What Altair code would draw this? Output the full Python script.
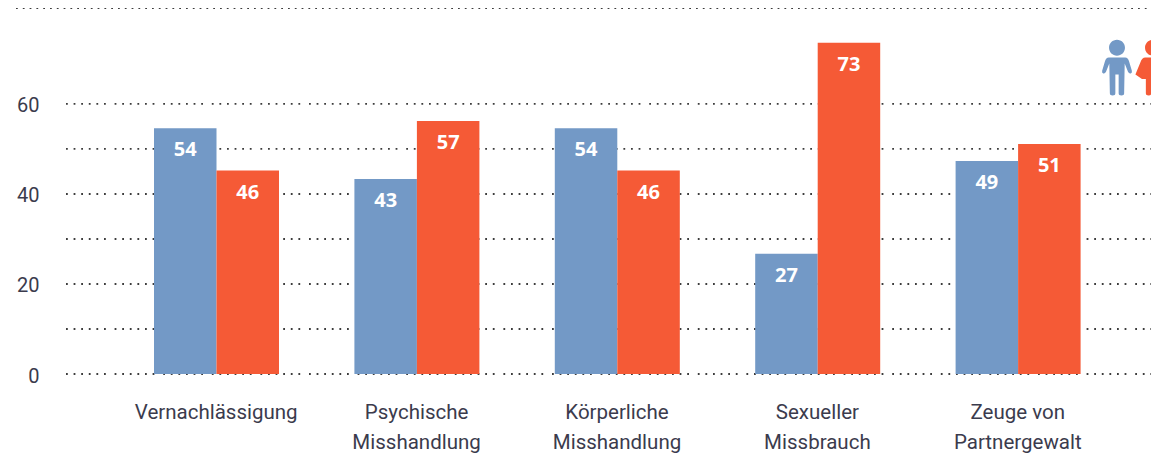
import altair as alt
import pandas as pd

categories = ["Vernachlässigung", "Psychische|Misshandlung", "Körperliche|Misshandlung",
              "Sexueller|Missbrauch", "Zeuge von|Partnergewalt"]
boys_bars = [54.6, 43.3, 54.6, 26.7, 47.3]
girls_bars = [45.2, 56.2, 45.2, 73.6, 51.1]
boys_labels = ["54", "43", "54", "27", "49"]
girls_labels = ["46", "57", "46", "73", "51"]
groups = ["Jungen", "Mädchen"]
grid_values = [0, 10, 20, 30, 40, 50, 60]
BLUE = "#7399C6"
RED = "#F55A36"
TEXT = "#3b3b4d"
GRID = "#3c3c3c"
TOP = 81.3

rows = []
for c, bv, gv, bl, gl in zip(categories, boys_bars, girls_bars, boys_labels, girls_labels):
    rows.append({"cat": c, "group": groups[0], "value": bv, "label": bl})
    rows.append({"cat": c, "group": groups[1], "value": gv, "label": gl})
df = pd.DataFrame(rows)

x = alt.X("cat:N", sort=categories,
          scale=alt.Scale(domain=categories, range=[50, 1052], paddingInner=0, paddingOuter=0),
          axis=alt.Axis(title=None, labelAngle=0, domain=False, ticks=False, labelPadding=28,
                        labelFont="Roboto", labelFontSize=20.5, labelColor=TEXT,
                        labelLineHeight=30, labelExpr="split(datum.label, '|')", labelBaseline="top"))
xo = alt.XOffset("group:N", sort=groups,
                 scale=alt.Scale(domain=groups, range=[38, 163], paddingInner=0, paddingOuter=0))
yscale = alt.Scale(domain=[0, TOP], nice=False)
y = alt.Y("value:Q", scale=yscale,
          axis=alt.Axis(title=None, values=grid_values, domain=False, ticks=False, grid=False,
                        labelPadding=27, labelFont="Roboto", labelFontSize=20, labelColor=TEXT,
                        labelOffset=2,
                        labelExpr="datum.value % 20 === 0 ? datum.label : ''"))

grid = alt.Chart(pd.DataFrame({"value": grid_values})).mark_rule(
    color=GRID, strokeWidth=1.9,
    strokeDash=[1.8, 5.8, 1.8, 5.8, 1.8, 5.8, 1.8, 5.8, 1.8, 5.8, 1.8, 8.8]).encode(
    y=alt.Y("value:Q", scale=yscale, title=None),
    x=alt.value(0), x2=alt.value(1085))

bars = alt.Chart(df).mark_bar().encode(
    x=x, xOffset=xo, y=y,
    color=alt.Color("group:N", scale=alt.Scale(domain=groups, range=[BLUE, RED]), legend=None))

texts = alt.Chart(df).mark_text(color="white", font="Open Sans", fontWeight="bold", fontSize=20,
                                baseline="middle", dy=22).encode(
    x=x, xOffset=xo, y=alt.Y("value:Q", scale=yscale, title=None), text="label:N")

top_rule = alt.Chart(pd.DataFrame({"v": [TOP]})).mark_rule(
    color=GRID, strokeWidth=1.9, strokeDash=[1.8, 5]).encode(
    y=alt.Y("v:Q", scale=yscale, title=None),
    x=alt.value(-50), x2=alt.value(1085))

BOY = ("M0 -.515A.145 .145 0 1 1 0 -.225A.145 .145 0 1 1 0 -.515Z"
       "M-.15 -.19L.15 -.19Q.2 -.19 .22 -.12L.27 .05Q.28 .09 .25 .1Q.22 .11 .2 .07L.14 -.08"
       "L.13 .46Q.13 .5 .08 .5Q.03 .5 .03 .46L.03 .12L-.03 .12L-.03 .46Q-.03 .5 -.08 .5"
       "Q-.13 .5 -.13 .46L-.14 -.08L-.2 .07Q-.22 .11 -.25 .1Q-.28 .09 -.27 .05L-.22 -.12Q-.2 -.19 -.15 -.19Z")
GIRL = ("M0 -.515A.145 .145 0 1 1 0 -.225A.145 .145 0 1 1 0 -.515Z"
        "M-.14 -.19L.14 -.19Q.2 -.19 .23 -.1L.32 .12L.2 .2L.13 .2L.13 .46Q.13 .5 .08 .5"
        "Q.03 .5 .03 .46L.03 .2L-.03 .2L-.03 .46Q-.03 .5 -.08 .5Q-.13 .5 -.13 .46L-.13 .2"
        "L-.2 .2L-.32 .12L-.23 -.1Q-.2 -.19 -.14 -.19Z")

boy = alt.Chart(pd.DataFrame({"n": ["boy"]})).mark_point(
    shape=BOY, filled=True, color=BLUE, opacity=1, size=12100).encode(
    x=alt.value(1051), y=alt.value(60))
girl = alt.Chart(pd.DataFrame({"n": ["girl"]})).mark_point(
    shape=GIRL, filled=True, color=RED, opacity=1, size=12100).encode(
    x=alt.value(1087), y=alt.value(60))

chart = alt.layer(grid, bars, texts, top_rule, boy, girl).properties(
    width=1085, height=366,
    padding={"left": 58, "top": 0, "right": 0, "bottom": 86},
    autosize=alt.AutoSizeParams(type="none"),
    background="white"
).configure_view(stroke=None)

chart.save("out.html", embed_options={"renderer": "svg", "actions": False})
